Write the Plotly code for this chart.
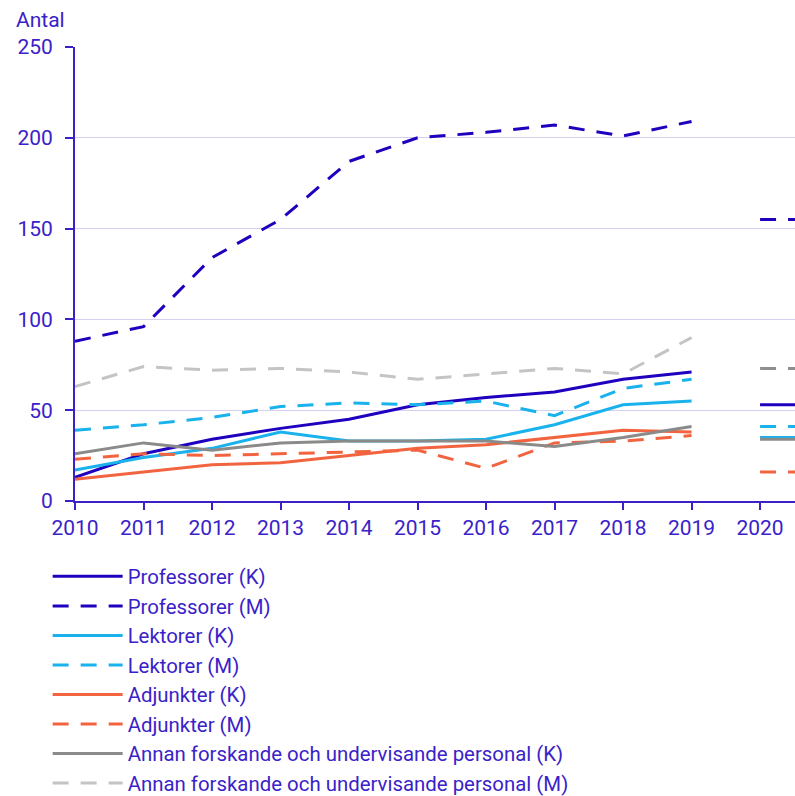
import plotly.graph_objects as go

years = [2010, 2011, 2012, 2013, 2014, 2015, 2016, 2017, 2018, 2019]
years_new = [2020, 2021]

prof_k = [13, 26, 34, 40, 45, 53, 57, 60, 67, 71]
prof_m = [88, 96, 134, 155, 187, 200, 203, 207, 201, 209]
lekt_k = [17, 24, 29, 38, 33, 33, 34, 42, 53, 55]
lekt_m = [39, 42, 46, 52, 54, 53, 55, 47, 62, 67]
adj_k = [12, 16, 20, 21, 25, 29, 31, 35, 39, 38]
adj_m = [23, 26, 25, 26, 27, 28, 18, 32, 33, 36]
ann_k = [26, 32, 28, 32, 33, 33, 33, 30, 35, 41]
ann_m = [63, 74, 72, 73, 71, 67, 70, 73, 70, 90]

# values shown from 2020 onward (flat up to the visible edge)
prof_k_new = [53, 53]
prof_m_new = [155, 155]
lekt_k_new = [35, 35]
lekt_m_new = [41, 41]
adj_m_new = [16, 16]
ann_k_new = [34, 34]
ann_m_new = [73, 73]

y_ticks = [0, 50, 100, 150, 200, 250]
x_ticks = [2010, 2011, 2012, 2013, 2014, 2015, 2016, 2017, 2018, 2019, 2020]

TXT = "#3a22c8"
C_PROF = "#1e00be"
C_LEKT = "#19b2ec"
C_ADJ = "#f2643f"
C_ANNK = "#8a8a88"
C_ANNM = "#c4c4c4"
DASH = "16px,12px"

series = [
    ("Professorer (K)", prof_k, prof_k_new, C_PROF, C_PROF, "solid"),
    ("Professorer (M)", prof_m, prof_m_new, C_PROF, C_PROF, DASH),
    ("Lektorer (K)", lekt_k, lekt_k_new, C_LEKT, C_LEKT, "solid"),
    ("Lektorer (M)", lekt_m, lekt_m_new, C_LEKT, C_LEKT, DASH),
    ("Adjunkter (K)", adj_k, None, C_ADJ, C_ADJ, "solid"),
    ("Adjunkter (M)", adj_m, adj_m_new, C_ADJ, C_ADJ, DASH),
    ("Annan forskande och undervisande personal (K)", ann_k, ann_k_new, C_ANNK, C_ANNK, "solid"),
    ("Annan forskande och undervisande personal (M)", ann_m, ann_m_new, C_ANNM, "#8e8e8c", DASH),
]

fig = go.Figure()
for name, vals, new_vals, col, col_new, dash in series:
    fig.add_trace(go.Scatter(x=years, y=vals, name=name, mode="lines",
                             line=dict(color=col, width=3, dash=dash)))
for name, vals, new_vals, col, col_new, dash in series:
    if new_vals is not None:
        fig.add_trace(go.Scatter(x=years_new, y=new_vals, name=name, mode="lines",
                                 showlegend=False,
                                 line=dict(color=col_new, width=3, dash=dash)))

fig.update_layout(
    width=795, height=796,
    margin=dict(l=75, r=0, t=47, b=295, autoexpand=False),
    paper_bgcolor="white", plot_bgcolor="white",
    font=dict(family="Roboto", size=21, color=TXT),
    showlegend=True,
    legend=dict(orientation="v", x=-0.038, xanchor="left", y=-0.1225, yanchor="top",
                font=dict(family="Roboto", size=20.4, color=TXT),
                itemwidth=70, traceorder="normal", bgcolor="rgba(0,0,0,0)"),
    annotations=[dict(text="Antal", xref="paper", yref="paper",
                      x=-0.085, y=1.0595, xanchor="left", yanchor="middle",
                      showarrow=False, font=dict(family="Roboto", size=21, color=TXT))],
)
fig.update_xaxes(range=[2010, 2020.51], tickvals=x_ticks, ticktext=[str(v) for v in x_ticks],
                 showgrid=False, showline=True, linecolor=TXT, linewidth=2,
                 ticks="outside", ticklen=7, tickcolor=TXT, tickwidth=2,
                 zeroline=False, tickfont=dict(size=21, color=TXT))
fig.update_yaxes(range=[0, 250], tickvals=y_ticks, showgrid=True, gridcolor="#d4d0f2",
                 gridwidth=1, showline=True, linecolor=TXT, linewidth=2,
                 ticks="outside", ticklen=8, tickcolor=TXT, tickwidth=2,
                 ticklabelstandoff=8,
                 zeroline=False, tickfont=dict(size=21, color=TXT))

fig.write_html("out.html", config={"displayModeBar": False},
               post_script="document.body.style.margin='0';document.body.style.overflow='hidden';")
